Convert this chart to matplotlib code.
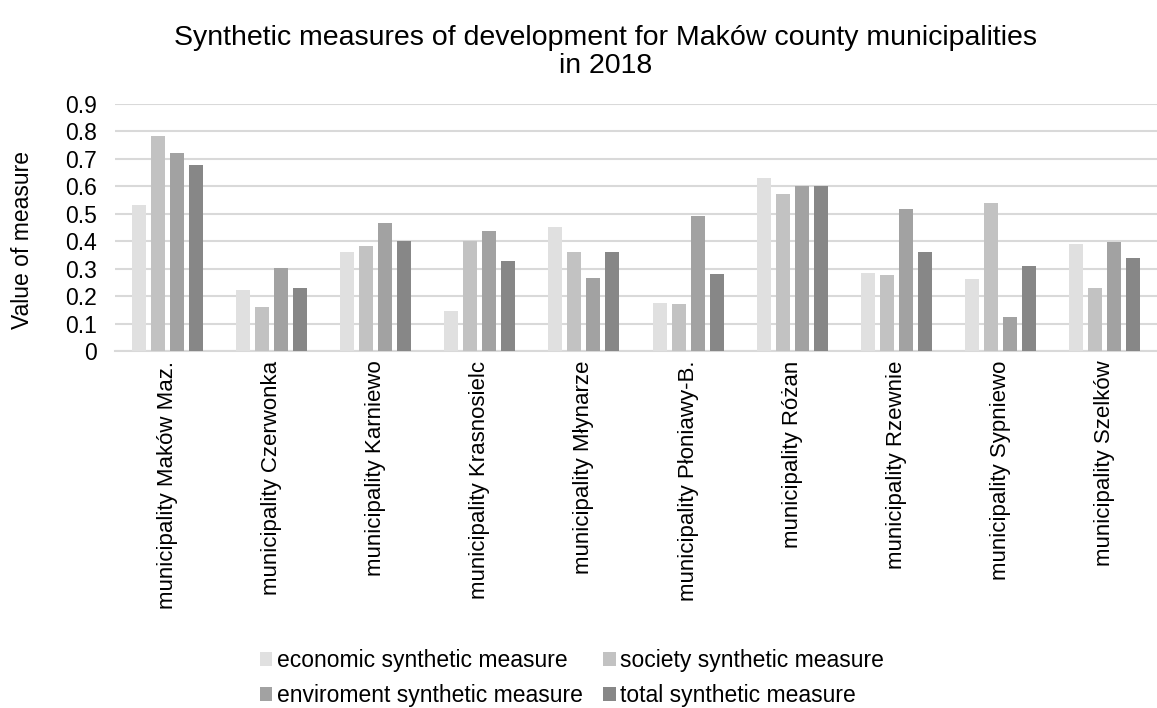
import matplotlib
matplotlib.use("Agg")
import matplotlib.pyplot as plt
import numpy as np
from matplotlib.patches import Patch

plt.rcParams['font.family'] = ['Liberation Sans', 'DejaVu Sans']

categories = ["municipality Maków Maz.", "municipality Czerwonka", "municipality Karniewo",
              "municipality Krasnosielc", "municipality Młynarze", "municipality Płoniawy-B.",
              "municipality Różan", "municipality Rzewnie", "municipality Sypniewo",
              "municipality Szelków"]
economic = [0.533, 0.222, 0.359, 0.146, 0.453, 0.176, 0.632, 0.283, 0.261, 0.389]
society = [0.782, 0.162, 0.382, 0.400, 0.359, 0.173, 0.573, 0.278, 0.540, 0.228]
environment = [0.720, 0.302, 0.465, 0.437, 0.267, 0.492, 0.600, 0.517, 0.124, 0.397]
total = [0.678, 0.228, 0.402, 0.327, 0.359, 0.282, 0.602, 0.359, 0.309, 0.338]
series_names = ["economic synthetic measure", "society synthetic measure",
                "enviroment synthetic measure", "total synthetic measure"]
colors = ["#e0e0e0", "#c2c2c2", "#a2a2a2", "#878787"]
yticks = [0, 0.1, 0.2, 0.3, 0.4, 0.5, 0.6, 0.7, 0.8, 0.9]
ytick_labels = ["0", "0.1", "0.2", "0.3", "0.4", "0.5", "0.6", "0.7", "0.8", "0.9"]

W, H = 1157, 708
FS = 16.5
fig = plt.figure(figsize=(W/100, H/100), dpi=100)
ax = fig.add_axes([115/W, 1-351/H, 1042/W, (351-104)/H])

x = np.arange(len(categories))
bw = 0.135
step = 0.182
data = [economic, society, environment, total]
for i, (vals, c) in enumerate(zip(data, colors)):
    ax.bar(x + (i-1.5)*step, vals, width=bw, color=c, zorder=3)

ax.set_xlim(-0.5, len(categories)-0.5)
ax.set_ylim(0, 0.9)
ax.set_yticks(yticks)
ax.set_yticklabels(ytick_labels, fontsize=FS)
ax.set_xticks(x)
ax.set_xticklabels(categories, rotation=90, fontsize=16)
ax.tick_params(axis='x', length=0, pad=7)
ax.tick_params(axis='y', length=0, pad=13)
ax.grid(axis='y', color='#d9d9d9', linewidth=1.5, zorder=0)
for s in ['top', 'right', 'left']:
    ax.spines[s].set_visible(False)
ax.spines['bottom'].set_color('#d9d9d9')
ax.spines['bottom'].set_linewidth(1.5)

fig.text(23/W, 1-240/H, "Value of measure", rotation=90, ha='center', va='center', fontsize=FS)

fig.text(606/W, 1-52/H, "Synthetic measures of development for Maków county municipalities\nin 2018",
         ha='center', va='center', fontsize=20.5, linespacing=1.08)

order = [0, 2, 1, 3]
handles = [Patch(facecolor=colors[k], edgecolor='none') for k in order]
labels = [series_names[k] for k in order]
fig.legend(handles, labels, ncol=2, loc='center', bbox_to_anchor=(572/W, 1-678/H),
           frameon=False, fontsize=FS, handlelength=0.55, handleheight=0.55,
           handletextpad=0.2, columnspacing=0.9, labelspacing=0.5, borderpad=0)

fig.savefig("out.png", dpi=100)
